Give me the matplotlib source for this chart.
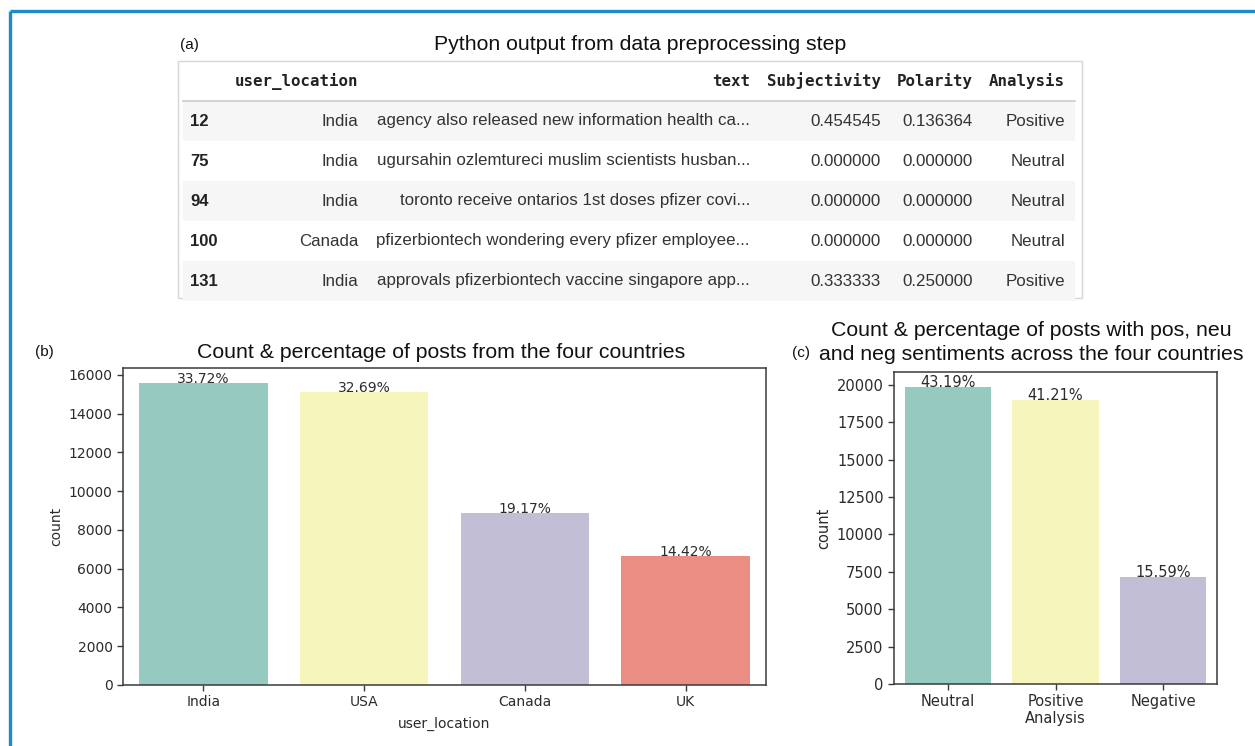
import matplotlib
matplotlib.use("Agg")
import matplotlib.pyplot as plt
from matplotlib.patches import Rectangle
import seaborn as sns

# ---------------------------------------------------------------- data
row_ids = [12, 75, 94, 100, 131]
user_location = ["India", "India", "India", "Canada", "India"]
tweet_text = [
    "agency also released new information health ca...",
    "ugursahin ozlemtureci muslim scientists husban...",
    "toronto receive ontarios 1st doses pfizer covi...",
    "pfizerbiontech wondering every pfizer employee...",
    "approvals pfizerbiontech vaccine singapore app...",
]
subjectivity = [0.454545, 0.000000, 0.000000, 0.000000, 0.333333]
polarity = [0.136364, 0.000000, 0.000000, 0.000000, 0.250000]
analysis = ["Positive", "Neutral", "Neutral", "Neutral", "Positive"]
table_columns = ["user_location", "text", "Subjectivity", "Polarity", "Analysis"]

countries = ["India", "USA", "Canada", "UK"]
country_counts = [15579, 15103, 8857, 6662]

sentiments = ["Neutral", "Positive", "Negative"]
sentiment_counts = [19865, 18955, 7171]

# ---------------------------------------------------------------- figure
W, H = 1255, 746
DPI = 100
fig = plt.figure(figsize=(W / DPI, H / DPI), dpi=DPI)
fig.patch.set_facecolor("white")

SANS = ["Liberation Sans", "DejaVu Sans"]
MONO = ["DejaVu Sans Mono"]
TXT = "#333333"
TITLE_FS = 15.3


def rect(left, top, right, bottom):
    return [left / W, 1 - bottom / H, (right - left) / W, (bottom - top) / H]


# pixel-space canvas for the frame, the table and the panel titles
bg = fig.add_axes([0, 0, 1, 1], zorder=0)
bg.set_xlim(0, W)
bg.set_ylim(H, 0)
bg.axis("off")

frame_color = "#1d8bc7"
bg.plot([10, W], [11, 11], color=frame_color, lw=2.4, solid_capstyle="butt")
bg.plot([10, 10], [11, H], color=frame_color, lw=2.4, solid_capstyle="butt")

# ---------------------------------------------------------------- (a) table
bg.text(180, 45, "(a)", family=SANS, fontsize=11, color="#111111",
        ha="left", va="center")
bg.text(640, 45, "Python output from data preprocessing step", family=SANS,
        fontsize=TITLE_FS, color="#111111", ha="center", va="center")

bg.add_patch(Rectangle((178, 61), 904, 237, fill=False,
                       edgecolor="#d6d6d6", lw=1.0))
row_h = 40
body_top = 101
for i in range(len(row_ids)):
    if i % 2 == 0:
        bg.add_patch(Rectangle((183, body_top + i * row_h), 892, row_h,
                               facecolor="#f6f6f6", edgecolor="none"))
bg.plot([183, 1075], [body_top, body_top], color="#cccccc", lw=1.2)

col_right = [358, 750, 881, 973, 1065]
for name, xr in zip(table_columns, col_right):
    bg.text(xr, 81, name, family=MONO, fontsize=11.3, fontweight="bold",
            color="#222222", ha="right", va="center")

for i, rid in enumerate(row_ids):
    y = body_top + i * row_h + row_h / 2
    bg.text(190, y, str(rid), family=SANS, fontsize=12, fontweight="bold",
            color="#222222", ha="left", va="center")
    cells = [user_location[i], tweet_text[i], f"{subjectivity[i]:.6f}",
             f"{polarity[i]:.6f}", analysis[i]]
    for val, xr in zip(cells, col_right):
        bg.text(xr, y, val, family=SANS, fontsize=12.2, color=TXT,
                ha="right", va="center")

# ---------------------------------------------------------------- bar charts
palette = [sns.desaturate(c, 0.75) for c in sns.color_palette("Set3", 4)]


def style_axes(ax, fs):
    for s in ax.spines.values():
        s.set_color("#3a3a3a")
        s.set_linewidth(1.1)
    ax.tick_params(axis="both", colors="#3a3a3a", labelcolor="#2b2b2b",
                   labelsize=fs, length=4, width=1)


def bar_panel(ax, labels, counts, colors, yticks, xlabel, fs):
    xs = list(range(len(labels)))
    ax.bar(xs, counts, width=0.8, color=colors, edgecolor="none")
    ax.set_xlim(-0.5, len(labels) - 0.5)
    ax.set_ylim(0, max(counts) * 1.05)
    ax.set_xticks(xs)
    ax.set_xticklabels(labels, family="DejaVu Sans")
    ax.set_yticks(yticks)
    ax.set_yticklabels([str(t) for t in yticks], family="DejaVu Sans")
    ax.set_ylabel("count", family="DejaVu Sans", fontsize=fs, color="#2b2b2b")
    ax.set_xlabel(xlabel, family="DejaVu Sans", fontsize=fs, color="#2b2b2b")
    total = sum(counts)
    for x, c in zip(xs, counts):
        ax.text(x, c, f"{100 * c / total:.2f}%", family="DejaVu Sans",
                fontsize=fs, color="#2b2b2b", ha="center", va="baseline")
    style_axes(ax, fs)


# (b) posts per country
ax_b = fig.add_axes(rect(123, 368, 766, 685), zorder=1)
bar_panel(ax_b, countries, country_counts, palette,
          list(range(0, 16001, 2000)), "user_location", 10)
ax_b.xaxis.labelpad = 5
bg.text(35, 352, "(b)", family=SANS, fontsize=11, color="#111111",
        ha="left", va="center")
bg.text(441, 352, "Count & percentage of posts from the four countries",
        family=SANS, fontsize=TITLE_FS, color="#111111", ha="center", va="center")

# (c) posts per sentiment class
ax_c = fig.add_axes(rect(894, 372, 1217, 684), zorder=1)
bar_panel(ax_c, sentiments, sentiment_counts, palette[:3],
          list(range(0, 20001, 2500)), "Analysis", 10.5)
ax_c.xaxis.labelpad = 1
bg.text(792, 353, "(c)", family=SANS, fontsize=11, color="#111111",
        ha="left", va="center")
bg.text(1031, 330, "Count & percentage of posts with pos, neu",
        family=SANS, fontsize=TITLE_FS, color="#111111", ha="center", va="center")
bg.text(1031, 355, "and neg sentiments across the four countries",
        family=SANS, fontsize=TITLE_FS, color="#111111", ha="center", va="center")

fig.savefig("out.png", dpi=DPI, facecolor="white")
